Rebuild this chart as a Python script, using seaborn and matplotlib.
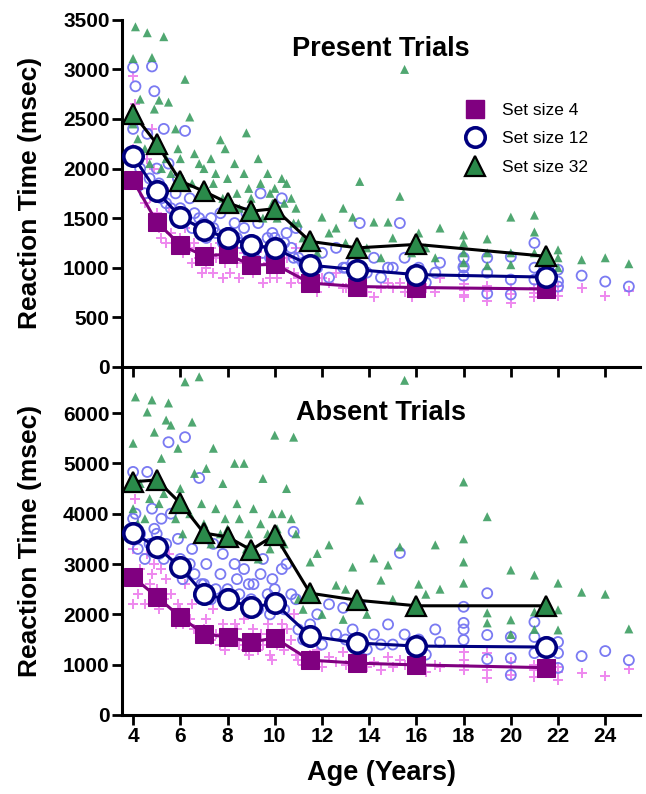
import pandas as pd
import seaborn as sns
import matplotlib
matplotlib.use('Agg')
import matplotlib.pyplot as plt
from matplotlib.lines import Line2D

sns.set_theme(style='ticks')
plt.rcParams['font.family'] = ['Liberation Sans', 'DejaVu Sans']
plt.rcParams['text.color'] = 'black'
plt.rcParams['axes.labelcolor'] = 'black'
plt.rcParams['xtick.color'] = 'black'
plt.rcParams['ytick.color'] = 'black'

# age of each participant (same children/adults in both panels)
age = [4.0, 4.0, 4.1, 4.2, 4.3, 4.5, 4.6, 4.7, 4.8, 4.9,
       5.0, 5.1, 5.2, 5.3, 5.4, 5.5, 5.6, 5.8, 5.9,
       6.0, 6.1, 6.2, 6.4, 6.5, 6.6, 6.8, 6.9,
       7.0, 7.1, 7.3, 7.4, 7.5, 7.7, 7.8, 7.9,
       8.0, 8.1, 8.3, 8.4, 8.5, 8.7, 8.8, 8.9,
       9.0, 9.1, 9.3, 9.4, 9.5, 9.7, 9.8, 9.9,
       10.0, 10.1, 10.3, 10.4, 10.5, 10.7, 10.8, 10.9,
       11.0, 11.2, 11.5, 11.8, 12.0, 12.3, 12.6, 12.9,
       13.0, 13.3, 13.6, 13.9, 14.2, 14.5, 14.8,
       15.0, 15.3, 15.5, 15.8, 16.1, 16.4, 16.8, 17.0,
       18, 18, 18, 18, 19, 19, 19, 20, 20, 20, 21, 21, 21, 22, 22, 22, 23, 24, 25]

# individual RTs, present trials
present_4 = [2930, 2200, 2650, 1900, 1800, 1650, 2100, 1700, 2400, 2000,
             1550, 1400, 1300, 1800, 1250, 1600, 1350, 1450, 1500,
             1300, 1150, 1400, 1200, 1050, 1250, 1100, 950,
             1150, 1000, 1200, 950, 1100, 1250, 900, 1050,
             1100, 950, 1200, 1050, 900, 1150, 1250, 1000,
             1000, 950, 1100, 1200, 850, 1050, 900, 1150,
             1050, 900, 1150, 1000, 1100, 850, 950, 1200,
             900, 850, 800, 750, 900, 850, 950, 800,
             800, 850, 900, 750, 700, 800, 850,
             800, 850, 750, 700, 850, 800, 750, 900,
             780, 840, 720, 700, 660, 760, 820, 645, 730, 800, 745, 800, 700, 710, 760, 820, 800, 710, 760]
present_12 = [3020, 2400, 2830, 2100, 2000, 1750, 2350, 1900, 3030, 2780,
              2000, 1850, 1700, 2400, 1650, 2050, 1600, 1750, 1900,
              1600, 1450, 2380, 1700, 1400, 1550, 1500, 1350,
              1450, 1300, 1500, 1400, 1350, 1550, 1250, 1600,
              1350, 1200, 1450, 1300, 1250, 1400, 1550, 1150,
              1250, 1200, 1450, 1750, 1150, 1300, 1100, 1350,
              1300, 1150, 1700, 1250, 1350, 1200, 1100, 1400,
              1100, 1050, 950, 1000, 1150, 900, 1200, 1000,
              1000, 1050, 1450, 950, 1100, 900, 1000,
              1000, 1450, 1100, 900, 1000, 850, 950, 1050,
              1100, 1010, 920, 1000, 1100, 950, 740, 1110, 880, 730, 1250, 1000, 880, 980, 860, 810, 920, 860, 810]
present_32 = [3110, 2450, 3430, 2300, 2700, 2200, 3370, 2050, 3120, 2600,
              2300, 2690, 2000, 3330, 2100, 2670, 1950, 2400, 2200,
              2100, 1900, 2900, 2520, 1850, 2150, 2050, 1800,
              2000, 1750, 2100, 1850, 1950, 2290, 1700, 2200,
              1900, 1650, 2050, 1750, 1600, 1950, 2360, 1800,
              1700, 1600, 2100, 1850, 1500, 1950, 1750, 1650,
              1800, 1500, 1900, 1650, 1850, 1700, 1450, 1600,
              1450, 1300, 1250, 1150, 1510, 1350, 1400, 1600,
              1250, 1510, 1870, 1200, 1460, 1100, 1460,
              1300, 1720, 3000, 1150, 1350, 1200, 1100, 1400,
              1330, 1150, 1050, 1250, 1290, 1150, 1020, 1510, 1030, 1150, 1530, 1360, 1150, 1180, 1100, 1000, 1080, 1100, 1040]

# individual RTs, absent trials
absent_4 = [3300, 2200, 4300, 2400, 2900, 2200, 3200, 2600, 2800, 3000,
            2500, 2100, 2900, 2300, 2700, 3200, 2400, 1800, 2200,
            2100, 1800, 2600, 1900, 2200, 1700, 2400, 1600,
            1700, 1900, 1500, 2100, 1600, 1400, 1800, 1300,
            1600, 1500, 1800, 1700, 1400, 1900, 1300, 1200,
            1500, 1700, 1300, 1600, 1400, 1800, 1200, 1100,
            1600, 1400, 1800, 1300, 1700, 1500, 2000, 1200,
            1100, 1000, 1200, 1300, 950, 1150, 1050, 1250,
            1000, 1100, 1200, 950, 1050, 900, 1150,
            950, 1100, 1000, 900, 1050, 850, 1000, 950,
            1250, 900, 1000, 1100, 1230, 735, 900, 955, 800, 1050, 755, 900, 1000, 700, 850, 950, 835, 775, 915]
absent_12 = [4830, 3900, 4000, 3300, 3600, 3100, 4830, 3400, 4100, 3700,
             3600, 3200, 3900, 3100, 3400, 5420, 4000, 3000, 3500,
             3100, 2700, 5520, 3000, 3300, 2800, 4710, 2600,
             2600, 3000, 2300, 3400, 2500, 2800, 3200, 2400,
             2500, 2300, 3000, 2700, 2400, 2900, 2200, 2600,
             2300, 2600, 2100, 2800, 3100, 2400, 2000, 2700,
             2500, 2200, 2900, 2100, 3000, 2400, 3640, 2300,
             1700, 1500, 1800, 2000, 1400, 2200, 1600, 2130,
             1500, 1700, 2200, 1300, 1600, 1400, 1800,
             1400, 3220, 1600, 1300, 1500, 1200, 1700, 1450,
             2150, 1830, 1490, 1700, 2420, 1590, 1110, 1550, 1130, 795, 1850, 1550, 1230, 1450, 1230, 935, 1170, 1270, 1090]
absent_32 = [5400, 4100, 6320, 3800, 4600, 3900, 6020, 4300, 6260, 5620,
             4700, 4200, 5100, 4400, 5860, 6200, 5760, 3900, 5300,
             4500, 3600, 6620, 4000, 5820, 4800, 6720, 4200,
             3800, 4900, 3400, 5300, 4100, 3600, 4600, 3900,
             3700, 3500, 5000, 4200, 3900, 5000, 3300, 3600,
             3400, 4100, 3100, 3800, 4700, 3600, 3300, 4000,
             5560, 3700, 4000, 3400, 4500, 3900, 5520, 3600,
             2300, 2100, 3040, 3210, 2000, 3380, 2580, 1900,
             2500, 2940, 4270, 2000, 3120, 2680, 2980,
             2300, 3340, 6650, 2100, 2600, 2400, 3380, 2500,
             4630, 3500, 3040, 2620, 3940, 2030, 1830, 2880, 1890, 1600, 2780, 2050, 1700, 2620, 2090, 1690, 2440, 2400, 1710]

# group means
mean_age = [4, 5, 6, 7, 8, 9, 10, 11.5, 13.5, 16, 21.5]
present_mean_4 = [1880, 1460, 1230, 1120, 1135, 1025, 1035, 845, 810, 800, 785]
present_mean_12 = [2125, 1770, 1515, 1380, 1300, 1230, 1195, 1025, 980, 930, 905]
present_mean_32 = [2555, 2250, 1875, 1770, 1655, 1570, 1595, 1265, 1200, 1235, 1115]
absent_mean_4 = [2740, 2350, 1950, 1610, 1550, 1450, 1530, 1090, 1030, 995, 940]
absent_mean_12 = [3615, 3340, 2940, 2400, 2300, 2140, 2220, 1570, 1430, 1370, 1350]
absent_mean_32 = [4635, 4670, 4210, 3615, 3540, 3280, 3580, 2420, 2280, 2170, 2170]

pink = '#ee88ee'
lilac = '#7a7af2'
lgreen = '#3d9e62'
purple = '#800080'
navy = '#000080'
dgreen = '#2a8a4a'

fig = plt.figure(figsize=(6.46, 7.94), dpi=100)
ax1 = fig.add_axes([0.189, 0.538, 0.802, 0.437])
ax2 = fig.add_axes([0.189, 0.0995, 0.802, 0.4383])
ax2.patch.set_alpha(0)


def draw_panel(ax, rt4, rt12, rt32, m4, m12, m32):
    df = pd.DataFrame({'age': age, 'rt4': rt4, 'rt12': rt12, 'rt32': rt32})
    sns.scatterplot(data=df, x='age', y='rt4', marker='+', color=pink, s=60,
                    linewidth=1.4, ax=ax, zorder=2)
    sns.scatterplot(data=df, x='age', y='rt12', marker='o', color=lilac, s=52,
                    facecolor='none', edgecolor=lilac, linewidth=1.3, ax=ax, zorder=3)
    sns.scatterplot(data=df, x='age', y='rt32', marker='^', color=lgreen, s=42,
                    edgecolor='none', alpha=0.9, ax=ax, zorder=4)
    md = pd.DataFrame({'age': mean_age, 'm4': m4, 'm12': m12, 'm32': m32})
    sns.lineplot(data=md, x='age', y='m4', color=purple, lw=2.2, marker='s',
                 markersize=13.5, markerfacecolor=purple, markeredgecolor=purple, ax=ax, zorder=6)
    sns.lineplot(data=md, x='age', y='m12', color=navy, lw=2.2, marker='o',
                 markersize=14, markerfacecolor='white', markeredgecolor=navy,
                 markeredgewidth=2.6, ax=ax, zorder=7)
    sns.lineplot(data=md, x='age', y='m32', color='black', lw=2.2, marker='^',
                 markersize=15, markerfacecolor=dgreen, markeredgecolor='black',
                 markeredgewidth=1.6, ax=ax, zorder=8)
    ax.set_xlim(3.534, 25.48)
    ax.set_xticks(range(4, 25, 2))
    sns.despine(ax=ax)
    for s in ['left', 'bottom']:
        ax.spines[s].set_linewidth(2.2)
        ax.spines[s].set_color('black')
    ax.tick_params(width=2, length=7, color='black', pad=2, labelsize=15)
    for lab in ax.get_xticklabels() + ax.get_yticklabels():
        lab.set_fontweight('bold')
    ax.set_ylabel('Reaction Time (msec)', fontsize=19, fontweight='bold')
    ax.yaxis.set_label_coords(-0.155, 0.5)


draw_panel(ax1, present_4, present_12, present_32,
           present_mean_4, present_mean_12, present_mean_32)
draw_panel(ax2, absent_4, absent_12, absent_32,
           absent_mean_4, absent_mean_12, absent_mean_32)

ax1.set_ylim(0, 3500)
ax1.set_yticks(range(0, 3501, 500))
ax1.set_xticklabels([])
ax1.set_xlabel('')
ax2.set_ylim(0, 6915)
ax2.set_yticks(range(0, 6001, 1000))
ax2.set_xlabel('Age (Years)', fontsize=19.5, fontweight='bold')
ax2.xaxis.set_label_coords(0.5, -0.13)

ax1.text(0.5, 0.915, 'Present Trials', transform=ax1.transAxes, ha='center',
         va='center', fontsize=19.5, fontweight='bold')
ax2.text(0.5, 0.868, 'Absent Trials', transform=ax2.transAxes, ha='center',
         va='center', fontsize=19.5, fontweight='bold')

handles = [
    Line2D([], [], ls='none', marker='s', markersize=13.5, color=purple),
    Line2D([], [], ls='none', marker='o', markersize=14, markerfacecolor='white',
           markeredgecolor=navy, markeredgewidth=2.6),
    Line2D([], [], ls='none', marker='^', markersize=15, markerfacecolor=dgreen,
           markeredgecolor='black', markeredgewidth=1.6),
]
ax1.legend(handles, ['Set size 4', 'Set size 12', 'Set size 32'],
           loc='upper left', bbox_to_anchor=(0.63, 0.785), frameon=False,
           fontsize=12.5, handletextpad=0.6, labelspacing=0.75, borderpad=0)

fig.savefig('out.png', dpi=100)
plt.close(fig)
